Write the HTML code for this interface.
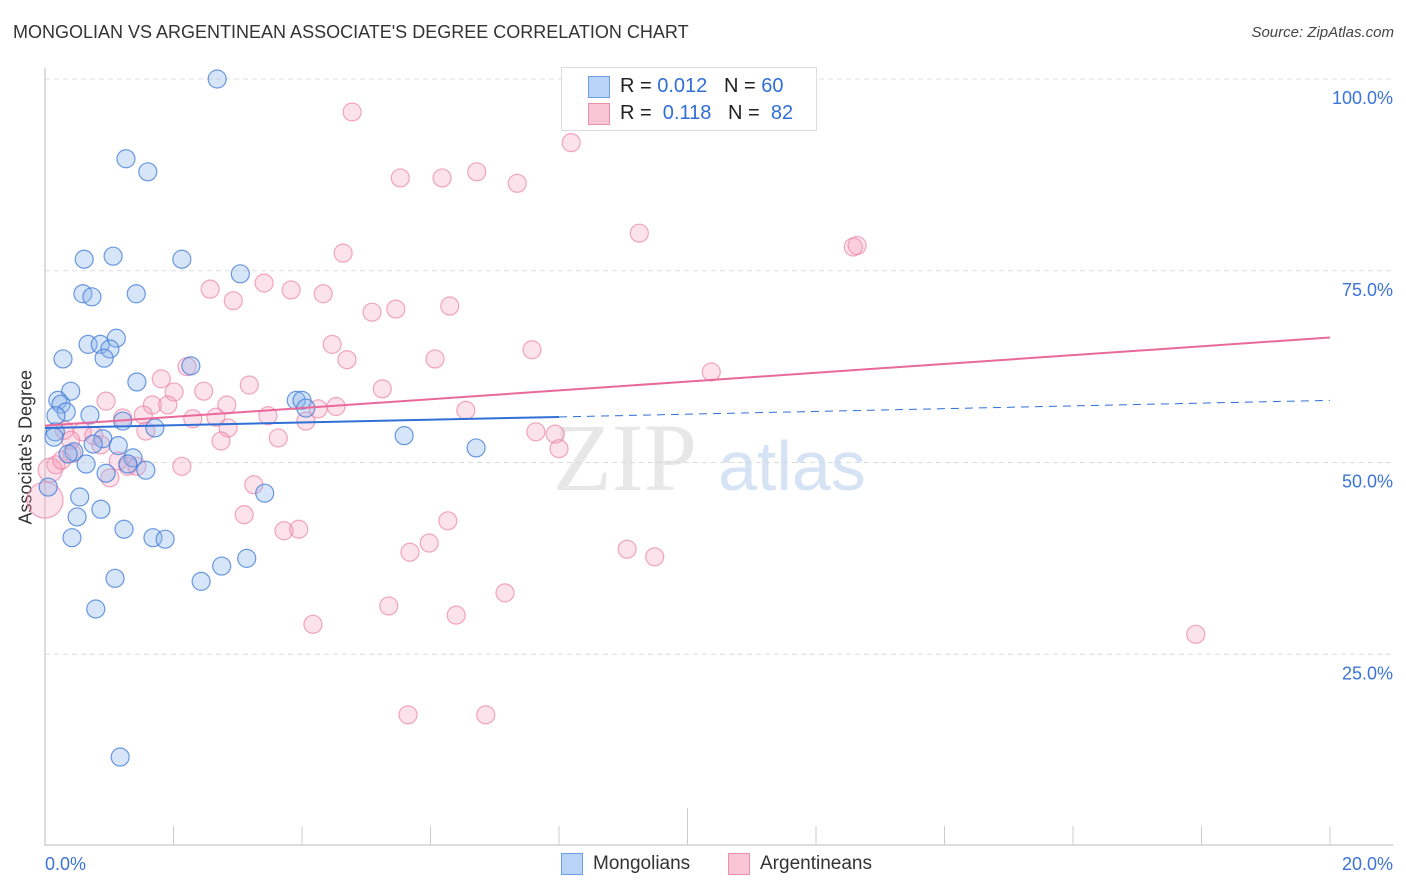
<!DOCTYPE html>
<html><head><meta charset="utf-8"><style>
body{margin:0;background:#fff;font-family:"Liberation Sans",sans-serif;}
#wrap{position:relative;width:1406px;height:892px;overflow:hidden;}
.t{position:absolute;white-space:nowrap;}
</style></head><body>
<div id="wrap">
<div class="t" style="left:13px;top:22px;font-size:18px;color:#333;">MONGOLIAN VS ARGENTINEAN ASSOCIATE'S DEGREE CORRELATION CHART</div>
<div class="t" style="right:12px;top:24px;font-size:15px;color:#444;font-style:italic;">Source: ZipAtlas.com</div>
<div class="t" style="left:-44px;top:444px;font-size:18px;color:#333;transform:rotate(-90deg);width:140px;text-align:center;">Associate's Degree</div>
<svg id="svg" width="1406" height="892" style="position:absolute;left:0;top:0"></svg>
<div style="position:absolute;left:561px;top:67px;width:254px;height:62px;border:1px solid #ddd;background:rgba(255,255,255,0.9);">
 <div style="position:absolute;left:26px;top:8px;width:20px;height:20px;background:#b8d3f6;border:1px solid #6b9ee6;"></div>
 <div class="t" style="left:58px;top:7px;font-size:20px;color:#222;">R = <span style="color:#2f6fd6">0.012</span>&nbsp;&nbsp;&nbsp;N = <span style="color:#2f6fd6">60</span></div>
 <div style="position:absolute;left:26px;top:35px;width:20px;height:20px;background:#f9c6d5;border:1px solid #ec8fae;"></div>
 <div class="t" style="left:58px;top:34px;font-size:20px;color:#222;">R = &nbsp;<span style="color:#2f6fd6">0.118</span>&nbsp;&nbsp;&nbsp;N = &nbsp;<span style="color:#2f6fd6">82</span></div>
</div>
<div style="position:absolute;left:561px;top:853px;">
 <div style="position:absolute;left:0;top:0;width:20px;height:20px;background:#b8d3f6;border:1px solid #6b9ee6;"></div>
 <div class="t" style="left:32px;top:0px;font-size:19px;color:#333;">Mongolians</div>
</div>
<div style="position:absolute;left:728px;top:853px;">
 <div style="position:absolute;left:0;top:0;width:20px;height:20px;background:#f9c6d5;border:1px solid #ec8fae;"></div>
 <div class="t" style="left:32px;top:0px;font-size:19px;color:#333;">Argentineans</div>
</div>
</div>
<script>
const blueX=[2.68,1.26,1.60,0.61,1.06,2.13,3.04,0.59,0.73,1.42,0.67,0.86,1.11,1.01,0.92,2.27,0.28,0.40,1.43,0.20,0.25,0.33,0.70,0.17,3.91,4.00,4.06,5.59,6.71,0.16,0.14,1.21,1.71,0.90,1.14,0.75,0.45,0.36,1.37,1.29,1.57,0.64,0.95,0.54,0.05,3.42,0.87,0.50,1.23,0.42,1.68,1.87,2.75,3.14,1.09,2.43,0.79,1.17];
const blueY=[100.0,89.6,87.9,76.5,76.9,76.5,74.6,72.0,71.6,72.0,65.4,65.4,66.2,64.8,63.6,62.6,63.5,59.3,60.5,58.1,57.6,56.6,56.2,56.1,58.1,58.1,57.1,53.5,51.9,54.0,53.3,55.4,54.5,53.1,52.2,52.4,51.4,51.1,50.6,49.8,49.0,49.8,48.6,45.5,46.8,46.0,43.9,42.9,41.3,40.2,40.2,40.0,36.5,37.5,34.9,34.5,30.9,11.6];
const pinkX=[4.78,8.19,5.53,6.18,6.72,7.35,9.25,4.64,12.58,12.64,2.57,3.41,3.83,4.33,2.93,5.09,5.46,6.30,4.47,4.70,6.07,7.58,10.37,2.21,3.18,1.81,5.25,2.01,2.47,0.95,1.67,2.83,1.91,1.53,1.21,2.66,2.30,3.47,4.25,4.53,4.06,6.55,0.30,0.58,1.57,2.85,0.76,0.40,0.87,3.63,2.74,7.64,7.94,8.00,0.42,0.17,1.14,1.29,1.43,2.13,1.01,3.25,3.10,3.72,3.95,6.27,5.98,5.68,9.06,9.49,5.35,7.16,6.40,4.17,17.91,5.65,6.86,0.0,0.08,0.26];
const pinkY=[95.7,91.7,87.1,87.1,87.9,86.4,79.9,77.3,78.1,78.3,72.6,73.4,72.5,72.0,71.1,69.6,70.0,70.4,65.4,63.4,63.5,64.7,61.8,62.5,60.1,60.9,59.6,59.2,59.3,58.0,57.5,57.5,57.5,56.2,55.8,55.9,55.7,56.1,57.0,57.3,55.4,56.8,54.2,54.0,54.1,54.5,53.5,52.9,52.3,53.2,52.8,54.0,53.7,51.8,51.2,49.7,50.2,49.5,49.5,49.5,48.0,47.1,43.2,41.1,41.3,42.4,39.5,38.3,38.7,37.7,31.3,33.0,30.1,28.9,27.6,17.1,17.1,45.1,49.0,50.3];
const pinkR=[];pinkR[77]=18;pinkR[78]=12;
const trendBlue=[54.5,58.1];
const trendPink=[54.8,66.3];
const yTicks=[25,50,75,100];
const yTickLabels=["25.0%","50.0%","75.0%","100.0%"];
const xEnds=["0.0%","20.0%"];
const NS="http://www.w3.org/2000/svg";
const svg=document.getElementById('svg');
const X=v=>45+v*64.25, Y=v=>846-v*7.67;
function mk(t,a){const e=document.createElementNS(NS,t);for(const k in a)e.setAttribute(k,a[k]);svg.appendChild(e);return e;}
yTicks.forEach((t,i)=>{
 const g=mk('line',{x1:45,x2:1393,y1:Y(t),y2:Y(t),stroke:'#ddd','stroke-dasharray':'5,4'});
 
 
 const tx=mk('text',{x:1393,y:Y(t)+25,'text-anchor':'end','font-size':18,fill:'#3b73d6','font-family':'Liberation Sans'});
 tx.textContent=yTickLabels[i];
 
 
});
const ax=mk('line',{x1:45,x2:45,y1:68,y2:846,stroke:'#bbb'});


const bx=mk('line',{x1:45,x2:1393,y1:845,y2:845,stroke:'#bbb'});


for(let i=1;i<=10;i++){
 const tk=mk('line',{x1:X(i*2),x2:X(i*2),y1:i==5?808:826,y2:845,stroke:'#ccc'});
 
 
}
[[0,'start'],[20,'end']].forEach((p,i)=>{
 const tx=mk('text',{x:i?1393:45,y:870,'text-anchor':p[1],'font-size':18,fill:'#3b73d6','font-family':'Liberation Sans'});
 tx.textContent=xEnds[i];
 
 
});
const wm=mk('text',{x:553,y:490,'font-size':96,fill:'#d8d8d8','font-family':'Liberation Serif','opacity':0.6});
wm.textContent='ZIP';


const wm2=mk('text',{x:718,y:490,'font-size':70,fill:'#c5d8f0','font-family':'Liberation Sans','opacity':0.7});
wm2.textContent='atlas';


pinkX.forEach((x,i)=>{
 const c=mk('circle',{cx:X(x),cy:Y(pinkY[i]),r:pinkR[i]||9,fill:'rgba(246,160,188,0.3)',stroke:'rgba(236,130,165,0.7)','stroke-width':1.2});
 
 
});
blueX.forEach((x,i)=>{
 const c=mk('circle',{cx:X(x),cy:Y(blueY[i]),r:9,fill:'rgba(140,180,235,0.35)',stroke:'rgba(60,120,215,0.75)','stroke-width':1.2});
 
 
});
const bt=v=>trendBlue[0]+(trendBlue[1]-trendBlue[0])*v/20;
const l1=mk('line',{x1:X(0),y1:Y(bt(0)),x2:X(8),y2:Y(bt(8)),stroke:'#2f6fd6','stroke-width':2});


const l2=mk('line',{x1:X(8),y1:Y(bt(8)),x2:X(20),y2:Y(bt(20)),stroke:'#2f6fd6','stroke-width':1,'stroke-dasharray':'8,6'});


const l3=mk('line',{x1:X(0),y1:Y(trendPink[0]),x2:X(20),y2:Y(trendPink[1]),stroke:'#e8699a','stroke-width':2});


</script>
</body></html>
